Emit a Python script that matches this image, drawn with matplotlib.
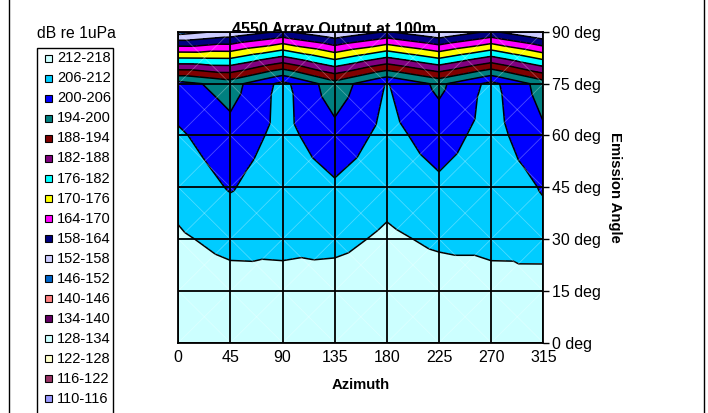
import numpy as np
import matplotlib.pyplot as plt
import matplotlib.tri as mtri
from matplotlib.patches import Rectangle

plt.rcParams['font.family'] = ['Liberation Sans', 'DejaVu Sans']

# Grid of the surface chart
azimuth = [0, 45, 90, 135, 180, 225, 270, 315]
emission = [0, 15, 30, 45, 60, 75, 90]

# dB re 1uPa, one list per emission angle (values per azimuth)
db_00 = [217.0, 215.5, 215.0, 215.5, 217.0, 216.5, 215.0, 217.0]
db_15 = [215.5, 214.5, 213.4, 214.8, 215.5, 215.0, 213.4, 216.0]
db_30 = [212.8, 210.25, 211.0, 210.4, 213.0, 211.0, 211.0, 208.3]
db_45 = [209.9, 205.5, 210.0, 206.9, 210.0, 207.2, 210.0, 205.5]
db_60 = [206.9, 202.1, 208.0, 201.9, 208.0, 203.2, 208.5, 201.0]
db_75 = [202.1, 197.5, 207.7, 196.5, 206.3, 198.6, 207.7, 197.3]
db_90 = [149.5, 153.5, 159.0, 152.5, 158.5, 152.5, 159.0, 151.5]

# contour bands, low to high
levels = list(range(110, 219, 6))
band_colors = ['#9999FF', '#993366', '#FFFFCC', '#CCFFFF', '#660066', '#FF8080',
               '#0066CC', '#CCCCFF', '#000080', '#FF00FF', '#FFFF00', '#00FFFF',
               '#800080', '#800000', '#008080', '#0000FF', '#00CCFF', '#CCFFFF']

W, H = 708, 413


def fx(px):
    return px / W


def fy(py):
    return 1 - py / H


def excel_triangulation(x, y, z):
    """each grid cell split in 4 triangles around its centre (like Excel)"""
    nx = len(x)
    X, Y = np.meshgrid(x, y)
    px, py, pz = list(X.ravel()), list(Y.ravel()), list(z.ravel())
    tris = []
    for j in range(len(y) - 1):
        for i in range(nx - 1):
            a = j * nx + i
            b, c, d = a + 1, a + nx + 1, a + nx
            k = len(px)
            px.append((x[i] + x[i + 1]) / 2)
            py.append((y[j] + y[j + 1]) / 2)
            pz.append((pz[a] + pz[b] + pz[c] + pz[d]) / 4)
            tris += [[a, b, k], [b, c, k], [c, d, k], [d, a, k]]
    return mtri.Triangulation(px, py, tris), np.array(pz)


Z = np.array([db_00, db_15, db_30, db_45, db_60, db_75, db_90])
tri, zz = excel_triangulation(azimuth, emission, Z)

fig = plt.figure(figsize=(W / 100, H / 100), dpi=100)
ax = fig.add_axes([fx(178.3), fy(342.7), (543.3 - 178.3) / W, (342.7 - 31.9) / H])

ax.tricontourf(tri, zz, levels=levels, colors=band_colors)
ax.tricontour(tri, zz, levels=levels[1:-1], colors='k', linewidths=1.1)

# faint diagonals of the surface cells
for i in range(len(azimuth) - 1):
    for j in range(len(emission) - 1):
        x0, x1 = azimuth[i], azimuth[i + 1]
        y0, y1 = emission[j], emission[j + 1]
        ax.plot([x0, x1], [y0, y1], color='white', lw=0.6, alpha=0.3)
        ax.plot([x0, x1], [y1, y0], color='white', lw=0.6, alpha=0.3)

for a in azimuth:
    ax.axvline(a, color='k', lw=1.3)
for e in emission:
    ax.axhline(e, color='k', lw=1.3)

ax.set_xlim(0, 315)
ax.set_ylim(0, 90)
ax.set_xticks(azimuth)
ax.set_xticklabels([str(a) for a in azimuth], fontsize=11.5)
ax.yaxis.tick_right()
ax.set_yticks(emission)
ax.set_yticklabels([f'{e} deg' for e in emission], fontsize=11.5)
ax.tick_params(axis='y', direction='out', length=4, width=1, pad=2)
ax.tick_params(axis='x', direction='out', length=0, width=1, pad=5)
for s in ax.spines.values():
    s.set_linewidth(1.3)

# title sits partly behind the plot area
fig.text(fx(334), fy(34), '4550 Array Output at 100m', fontsize=11.6,
         fontweight='bold', ha='center', va='baseline', zorder=-1)
fig.text(fx(361), fy(385), 'Azimuth', fontsize=10.7, fontweight='bold',
         ha='center', va='center')
fig.text(fx(615), fy(187.5), 'Emission Angle', fontsize=10.7, fontweight='bold',
         rotation=-90, ha='center', va='center')

# outer chart border
fig.add_artist(plt.Line2D([fx(9), fx(9)], [0, 1], color='k', lw=1))
fig.add_artist(plt.Line2D([fx(704), fx(704)], [0, 1], color='k', lw=1))

# legend, highest band first
fig.text(fx(76), fy(33), 'dB re 1uPa', fontsize=11.3, ha='center', va='center')
fig.add_artist(Rectangle((fx(37), fy(420)), (113 - 37) / W, (420 - 48) / H,
                         transform=fig.transFigure, fill=False, ec='k', lw=1))
labels = [f'{lo}-{lo + 6}' for lo in levels[:-1]]
for n, k in enumerate(range(len(labels) - 1, -1, -1)):
    yc = 58.3 + n * 20.04
    fig.add_artist(Rectangle((fx(44.5), fy(yc + 3.5)), 7 / W, 7 / H,
                             transform=fig.transFigure, fc=band_colors[k],
                             ec='k', lw=0.8))
    fig.text(fx(57), fy(yc), labels[k], fontsize=10.5, va='center', ha='left')

fig.savefig('out.png', dpi=100)
